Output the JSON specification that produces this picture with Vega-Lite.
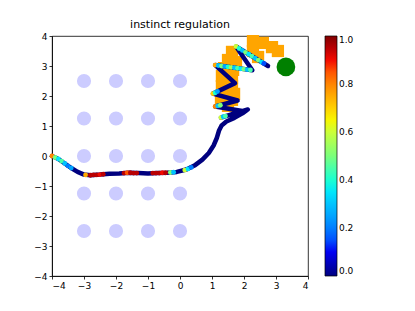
{
  "$schema": "https://vega.github.io/schema/vega-lite/v6.json",
  "autosize": "none",
  "width": 256,
  "height": 240,
  "padding": {"left": 52, "top": 36, "right": 107, "bottom": 35},
  "background": "white",
  "title": {"text": "instinct regulation", "fontSize": 11, "fontWeight": "normal", "font": "DejaVu Sans", "color": "black", "offset": 2},
  "config": {
    "view": {"stroke": "black", "strokeWidth": 0.8},
    "font": "DejaVu Sans",
    "axis": {"grid": false, "domainColor": "black", "domainWidth": 0.8, "tickColor": "black", "tickWidth": 0.8, "tickSize": 3, "labelColor": "black", "labelFontSize": 9, "labelFont": "DejaVu Sans", "labelPadding": 2, "title": null, "values": [-4, -3, -2, -1, 0, 1, 2, 3, 4], "labelExpr": "replace(datum.label, '-', '−')"},
    "legend": {"gradientLength": 240, "gradientThickness": 12, "gradientStrokeColor": "black", "gradientStrokeWidth": 0.7, "labelFontSize": 9, "labelColor": "black", "labelFont": "DejaVu Sans", "labelOffset": 6, "offset": 17, "padding": 0}
  },
  "datasets": {
    "circles": [
      {"x": -3, "y": 2.5}, {"x": -2, "y": 2.5}, {"x": -1, "y": 2.5}, {"x": 0, "y": 2.5},
      {"x": -3, "y": 1.25}, {"x": -2, "y": 1.25}, {"x": -1, "y": 1.25}, {"x": 0, "y": 1.25},
      {"x": -3, "y": 0}, {"x": -2, "y": 0}, {"x": -1, "y": 0}, {"x": 0, "y": 0},
      {"x": -3, "y": -1.25}, {"x": -2, "y": -1.25}, {"x": -1, "y": -1.25}, {"x": 0, "y": -1.25},
      {"x": -3, "y": -2.5}, {"x": -2, "y": -2.5}, {"x": -1, "y": -2.5}, {"x": 0, "y": -2.5}
    ],
    "goal": [{"x": 3.31, "y": 2.97}],
    "orange": [
      {"x": 2.28, "y": 3.83}, {"x": 2.59, "y": 3.77}, {"x": 2.875, "y": 3.63}, {"x": 3.06, "y": 3.5},
      {"x": 2.28, "y": 3.5}, {"x": 2.44, "y": 3.3}, {"x": 1.625, "y": 3.47}, {"x": 1.5, "y": 3.2},
      {"x": 1.75, "y": 3.13}, {"x": 1.375, "y": 2.93}, {"x": 1.66, "y": 2.87}, {"x": 1.31, "y": 2.67},
      {"x": 1.625, "y": 2.6}, {"x": 1.31, "y": 2.33}, {"x": 1.625, "y": 2.33}, {"x": 1.34, "y": 2.07},
      {"x": 1.69, "y": 2.07}, {"x": 1.28, "y": 1.87}, {"x": 1.625, "y": 1.87}, {"x": 1.5, "y": 1.67}
    ],
    "traj": [
      {"i": 1, "x": -4.0, "y": 0.0}, {"i": 2, "x": -3.8, "y": -0.1}, {"i": 3, "x": -3.6, "y": -0.25},
      {"i": 4, "x": -3.4, "y": -0.4}, {"i": 5, "x": -3.2, "y": -0.53}, {"i": 6, "x": -3.0, "y": -0.62},
      {"i": 7, "x": -2.8, "y": -0.64}, {"i": 8, "x": -2.5, "y": -0.62}, {"i": 9, "x": -2.2, "y": -0.59},
      {"i": 10, "x": -1.9, "y": -0.58}, {"i": 11, "x": -1.6, "y": -0.56}, {"i": 12, "x": -1.3, "y": -0.57},
      {"i": 13, "x": -1.0, "y": -0.58}, {"i": 14, "x": -0.7, "y": -0.57}, {"i": 15, "x": -0.4, "y": -0.56},
      {"i": 16, "x": -0.1, "y": -0.53}, {"i": 17, "x": 0.2, "y": -0.45}, {"i": 18, "x": 0.45, "y": -0.32},
      {"i": 19, "x": 0.7, "y": -0.12}, {"i": 20, "x": 0.9, "y": 0.1}, {"i": 21, "x": 1.05, "y": 0.35},
      {"i": 22, "x": 1.15, "y": 0.6}, {"i": 23, "x": 1.22, "y": 0.85}, {"i": 24, "x": 1.3, "y": 1.02},
      {"i": 25, "x": 1.45, "y": 1.15}, {"i": 26, "x": 1.7, "y": 1.27}, {"i": 27, "x": 1.95, "y": 1.42},
      {"i": 28, "x": 2.12, "y": 1.55}, {"i": 29, "x": 1.28, "y": 1.28}, {"i": 30, "x": 1.95, "y": 1.5},
      {"i": 31, "x": 1.1, "y": 1.65}, {"i": 32, "x": 1.8, "y": 1.85}, {"i": 33, "x": 1.03, "y": 2.08},
      {"i": 34, "x": 1.72, "y": 2.43}, {"i": 35, "x": 1.1, "y": 3.03}, {"i": 36, "x": 2.26, "y": 2.86},
      {"i": 37, "x": 1.75, "y": 3.65}, {"i": 38, "x": 2.75, "y": 3.0}
    ],
    "tips": [
      {"x": -4.0, "y": 0.0, "c": 0.8}, {"x": -3.9, "y": -0.05, "c": 0.5}, {"x": -3.8, "y": -0.1, "c": 0.35},
      {"x": -3.7, "y": -0.17, "c": 0.45}, {"x": -3.6, "y": -0.25, "c": 0.3}, {"x": -3.5, "y": -0.33, "c": 0.2},
      {"x": -3.4, "y": -0.4, "c": 0.25},
      {"x": -2.95, "y": -0.63, "c": 0.75}, {"x": -2.8, "y": -0.64, "c": 0.95}, {"x": -2.7, "y": -0.63, "c": 0.95},
      {"x": -2.6, "y": -0.63, "c": 0.95}, {"x": -2.5, "y": -0.62, "c": 0.9}, {"x": -2.4, "y": -0.61, "c": 0.95},
      {"x": -1.75, "y": -0.57, "c": 0.95}, {"x": -1.65, "y": -0.56, "c": 0.85}, {"x": -1.55, "y": -0.56, "c": 0.95},
      {"x": -1.45, "y": -0.57, "c": 0.95}, {"x": -1.35, "y": -0.57, "c": 0.95},
      {"x": -0.85, "y": -0.57, "c": 0.95}, {"x": -0.75, "y": -0.57, "c": 0.95}, {"x": -0.65, "y": -0.57, "c": 0.95},
      {"x": -0.55, "y": -0.56, "c": 0.9}, {"x": -0.45, "y": -0.56, "c": 0.95}, {"x": -0.3, "y": -0.55, "c": 0.5},
      {"x": -0.2, "y": -0.54, "c": 0.3}, {"x": 0.15, "y": -0.47, "c": 0.6}, {"x": 0.25, "y": -0.43, "c": 0.35},
      {"x": 0.35, "y": -0.38, "c": 0.2},
      {"x": 1.28, "y": 1.28, "c": 0.6}, {"x": 1.35, "y": 1.31, "c": 0.3}, {"x": 1.42, "y": 1.33, "c": 0.45},
      {"x": 1.1, "y": 1.65, "c": 0.8}, {"x": 1.18, "y": 1.67, "c": 0.3}, {"x": 1.26, "y": 1.69, "c": 0.5},
      {"x": 1.03, "y": 2.08, "c": 0.7}, {"x": 1.1, "y": 2.11, "c": 0.4}, {"x": 1.17, "y": 2.15, "c": 0.25},
      {"x": 1.1, "y": 3.03, "c": 0.75}, {"x": 1.2, "y": 3.015, "c": 0.3}, {"x": 1.3, "y": 3.0, "c": 0.5},
      {"x": 1.4, "y": 2.985, "c": 0.25}, {"x": 1.5, "y": 2.97, "c": 0.4}, {"x": 1.6, "y": 2.955, "c": 0.55},
      {"x": 1.7, "y": 2.94, "c": 0.3}, {"x": 1.8, "y": 2.925, "c": 0.45}, {"x": 1.9, "y": 2.91, "c": 0.35},
      {"x": 2.0, "y": 2.895, "c": 0.5}, {"x": 2.1, "y": 2.88, "c": 0.3}, {"x": 2.2, "y": 2.865, "c": 0.45},
      {"x": 1.75, "y": 3.65, "c": 0.6}, {"x": 1.85, "y": 3.585, "c": 0.4}, {"x": 1.95, "y": 3.52, "c": 0.3},
      {"x": 2.05, "y": 3.455, "c": 0.5}, {"x": 2.15, "y": 3.39, "c": 0.35}, {"x": 2.25, "y": 3.325, "c": 0.45},
      {"x": 2.35, "y": 3.26, "c": 0.3}, {"x": 2.45, "y": 3.195, "c": 0.5}, {"x": 2.55, "y": 3.13, "c": 0.35},
      {"x": 2.62, "y": 3.085, "c": 0.15}
    ]
  },
  "encoding": {
    "x": {"field": "x", "type": "quantitative", "scale": {"domain": [-4, 4], "nice": false, "zero": false}},
    "y": {"field": "y", "type": "quantitative", "scale": {"domain": [-4, 4], "nice": false, "zero": false}}
  },
  "layer": [
    {"data": {"name": "circles"}, "mark": {"type": "point", "shape": "circle", "filled": true, "size": 200, "color": "#ccccff", "opacity": 1, "strokeWidth": 0}},
    {"data": {"name": "goal"}, "mark": {"type": "point", "shape": "circle", "filled": true, "size": 350, "color": "#008000", "opacity": 1, "strokeWidth": 0}},
    {"data": {"name": "orange"}, "mark": {"type": "point", "shape": "square", "filled": true, "size": 150, "color": "#ffa500", "opacity": 1, "strokeWidth": 0}},
    {"data": {"name": "traj"}, "mark": {"type": "line", "color": "#00007f", "strokeWidth": 4.5, "strokeCap": "round", "strokeJoin": "round"}, "encoding": {"order": {"field": "i", "type": "quantitative"}}},
    {"data": {"name": "tips"}, "mark": {"type": "point", "shape": "circle", "filled": true, "size": 24, "opacity": 1, "strokeWidth": 0},
     "encoding": {"color": {"field": "c", "type": "quantitative",
       "scale": {"domain": [0, 0.11, 0.34, 0.375, 0.5, 0.64, 0.66, 0.89, 0.91, 1], "range": ["#000080", "#0000ff", "#00dbff", "#14ffe2", "#7bff7b", "#eeff08", "#ffec00", "#ff1300", "#e80000", "#800000"]},
       "legend": {"title": null, "values": [0, 0.2, 0.4, 0.6, 0.8, 1], "format": ".1f", "labelBaseline": "middle", "direction": "vertical", "orient": "right"}}}}
  ]
}
